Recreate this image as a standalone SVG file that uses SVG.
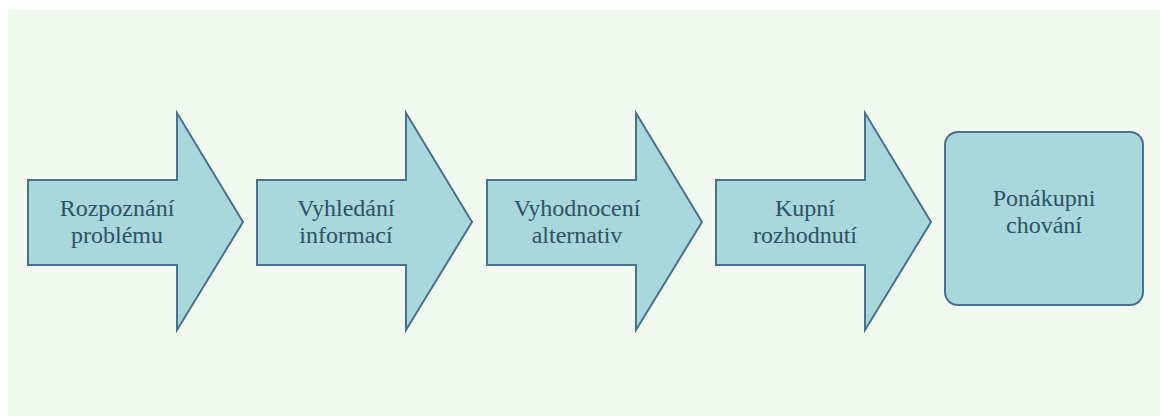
<svg xmlns="http://www.w3.org/2000/svg" width="1160" height="416" viewBox="0 0 1160 416">
  <style>
    .shape { fill: #a8d7dc; stroke: #47718c; stroke-width: 2; stroke-linejoin: miter; }
    .label { font-family: "Liberation Serif", "DejaVu Serif", serif; font-size: 24px; fill: #2d5265; text-anchor: middle; }
  </style>
  <defs>
    <path id="arrow" d="M0,180 H149 V113 L215,222 L149,330 V265 H0 Z"/>
  </defs>
  <rect x="0" y="0" width="1160" height="416" fill="#ffffff"/>
  <rect x="8" y="10" width="1152" height="406" fill="#f0f8ef"/>
  <g id="connectors"></g>
  <g id="node1">
    <use href="#arrow" class="shape" x="28"/>
    <text class="label" x="117" y="216">Rozpoznání</text>
    <text class="label" x="117" y="243">problému</text>
  </g>
  <g id="node2">
    <use href="#arrow" class="shape" x="257"/>
    <text class="label" x="346" y="216">Vyhledání</text>
    <text class="label" x="346" y="243">informací</text>
  </g>
  <g id="node3">
    <use href="#arrow" class="shape" x="487"/>
    <text class="label" x="577" y="216">Vyhodnocení</text>
    <text class="label" x="577" y="243">alternativ</text>
  </g>
  <g id="node4">
    <use href="#arrow" class="shape" x="716"/>
    <text class="label" x="805" y="216">Kupní</text>
    <text class="label" x="805" y="243">rozhodnutí</text>
  </g>
  <g id="node5">
    <rect class="shape" x="945" y="132" width="198" height="173" rx="13" ry="13"/>
    <text class="label" x="1044" y="206">Ponákupni</text>
    <text class="label" x="1044" y="233">chování</text>
  </g>
</svg>
